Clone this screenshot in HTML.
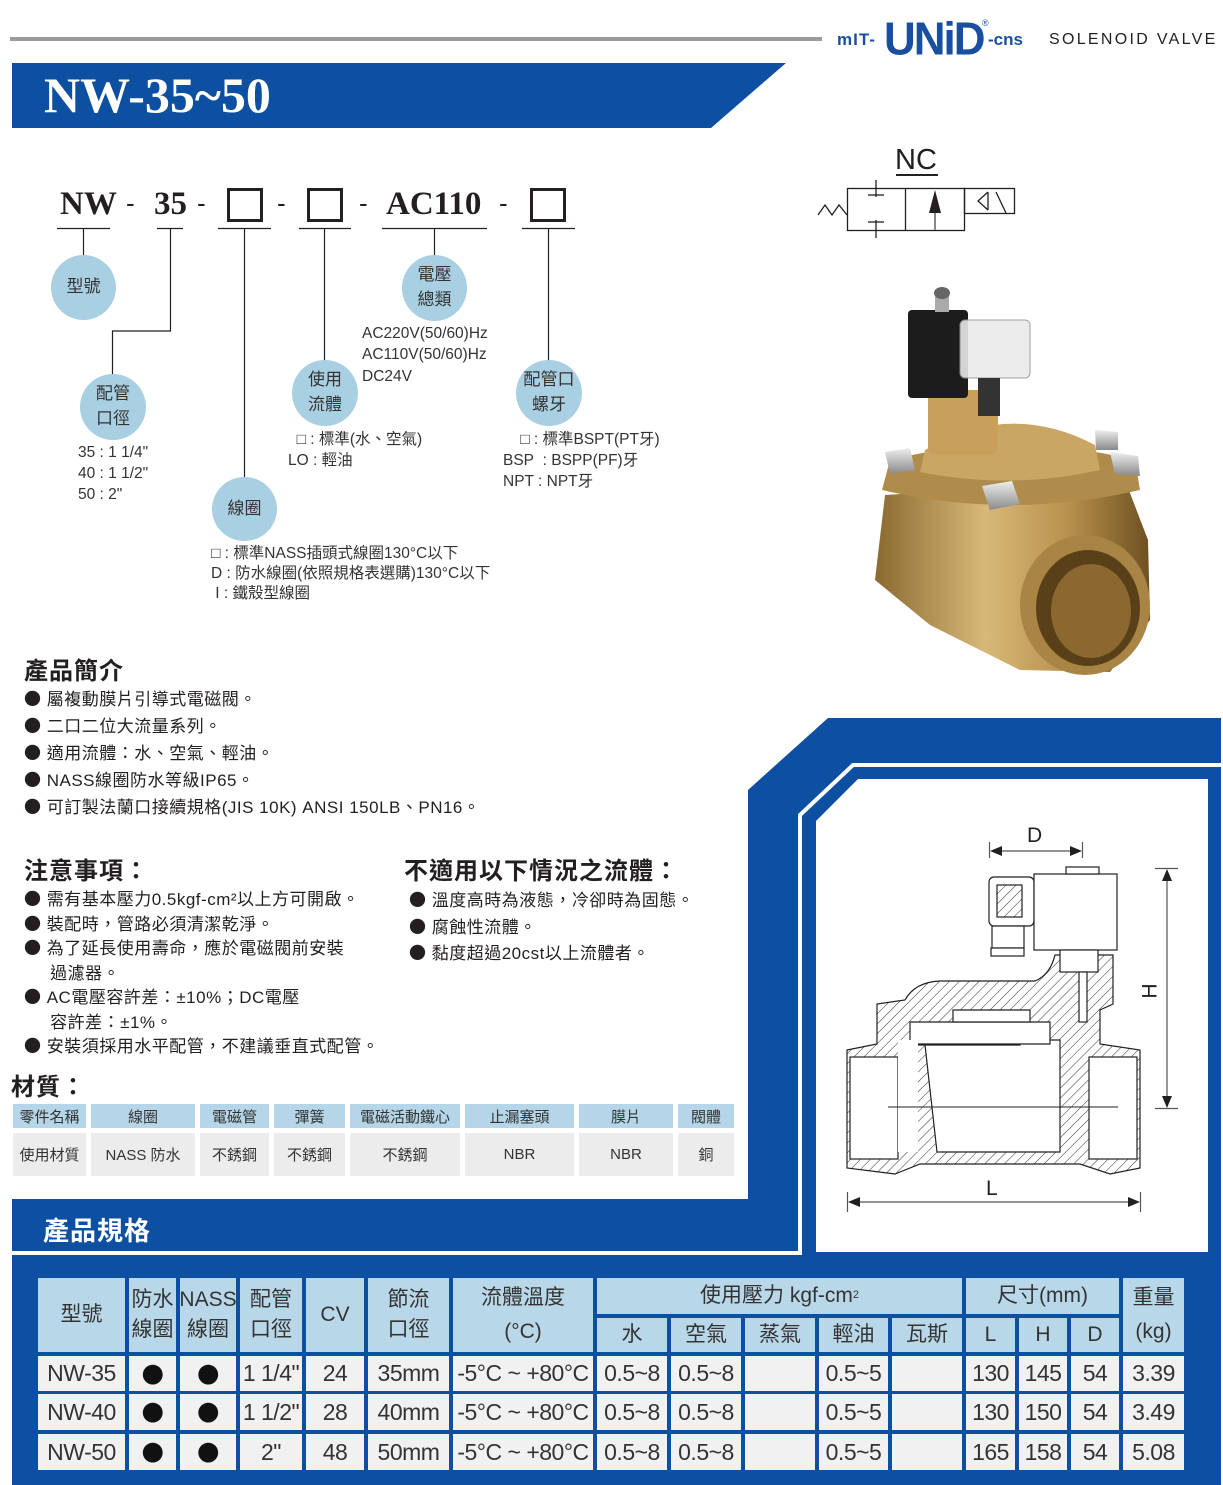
<!DOCTYPE html>
<html><head><meta charset="utf-8">
<style>
*{margin:0;padding:0;box-sizing:border-box}
body{width:1223px;height:1485px;position:relative;background:#fff;overflow:hidden;font-family:"Liberation Sans","Noto Sans CJK TC",sans-serif;color:#231f20}
.a{position:absolute;white-space:nowrap}
.c{position:absolute;display:flex;align-items:center;justify-content:center;text-align:center;white-space:nowrap}
.mh{background:#b5d6e8;font-size:15px;color:#333}
.md{background:#ececec;font-size:15px;color:#333}
.th{background:#b8d8ea;font-size:21px;color:#333;font-family:"Liberation Sans Narrow","Liberation Sans","Noto Sans CJK TC",sans-serif;line-height:1.45}
.td{background:#f1f1f2;font-size:23px;color:#333;font-family:"Liberation Sans Narrow","Liberation Sans","Noto Sans CJK TC",sans-serif;letter-spacing:-0.5px}
.dot{font-family:"Noto Sans CJK TC",sans-serif;font-size:22px;color:#111}
.circ{position:absolute;background:#a9cfe2;border-radius:50%;display:flex;align-items:center;justify-content:center;text-align:center;font-size:17px;color:#333;line-height:1.45}
.b{font-size:17px;color:#231f20;letter-spacing:0.5px}
.b i{font-style:normal;font-family:"Noto Sans CJK TC",sans-serif;font-size:17px;line-height:0}
.h2{font-size:24px;font-weight:bold;color:#231f20;letter-spacing:1px}
.sm{font-size:15.5px;color:#333;line-height:1.35}
</style></head><body>

<div class="a" style="left:10px;top:37px;width:812px;height:4px;background:#9a9a9a"></div>
<div class="a" style="left:837px;top:30px;font-size:17px;font-weight:900;color:#1a4f9f;letter-spacing:1px">mIT-</div>
<div class="a" style="left:884px;top:15px;font-size:44px;font-weight:900;color:#1a4f9f;letter-spacing:-2px;transform:scaleY(1.05)">UNiD</div>
<div class="a" style="left:982px;top:18px;font-size:9px;color:#1a4f9f">®</div>
<div class="a" style="left:988px;top:30px;font-size:17px;font-weight:900;color:#1a4f9f">-cns</div>
<div class="a" style="left:1049px;top:31px;font-size:16px;color:#231f20;letter-spacing:2.3px">SOLENOID VALVE</div>

<svg class="a" style="left:0;top:0" width="1223" height="140"><polygon points="12,63 786,63 711,128 12,128" fill="#0d4fa0"/></svg>
<div class="a" style="left:44px;top:66px;font-family:'Liberation Serif',serif;font-weight:bold;font-size:50px;color:#fff">NW-35~50</div>

<svg class="a" style="left:800px;top:140px" width="240" height="110">
<g stroke="#231f20" stroke-width="1.3" fill="none">
<rect x="47.5" y="48.5" width="117" height="42"/>
<line x1="105.5" y1="48.5" x2="105.5" y2="90.5"/>
<rect x="164.5" y="48.5" width="50" height="25"/>
<polyline points="18,75 25,65 32,75 39,65 47,75"/>
<line x1="76" y1="40" x2="76" y2="57"/><line x1="68" y1="55" x2="84" y2="55"/>
<line x1="76" y1="80" x2="76" y2="98"/><line x1="68" y1="82" x2="84" y2="82"/>
<polyline points="188,52 178,61 188,70"/><line x1="188" y1="52" x2="188" y2="70"/>
<line x1="196" y1="52" x2="206" y2="73"/>
</g>
<line x1="135" y1="90" x2="135" y2="68" stroke="#888" stroke-width="2"/>
<polygon points="135,50 129,73 141,73" fill="#231f20"/>
<line x1="96" y1="35" x2="138" y2="35" stroke="#231f20" stroke-width="2"/>
</svg>
<div class="a" style="left:895px;top:144px;font-size:29px;color:#231f20">NC</div>

<div class="a" style="left:60px;top:186px;font-family:'Liberation Serif',serif;font-weight:bold;font-size:33px">NW</div>
<div class="a" style="left:126px;top:188px;font-size:26px">-</div>
<div class="a" style="left:154px;top:186px;font-family:'Liberation Serif',serif;font-weight:bold;font-size:33px">35</div>
<div class="a" style="left:197px;top:188px;font-size:26px">-</div>
<div class="a" style="left:227px;top:188px;width:36px;height:34px;border:3px solid #231f20"></div>
<div class="a" style="left:277px;top:188px;font-size:26px">-</div>
<div class="a" style="left:307px;top:188px;width:36px;height:34px;border:3px solid #231f20"></div>
<div class="a" style="left:359px;top:188px;font-size:26px">-</div>
<div class="a" style="left:386px;top:186px;font-family:'Liberation Serif',serif;font-weight:bold;font-size:33px">AC110</div>
<div class="a" style="left:499px;top:188px;font-size:26px">-</div>
<div class="a" style="left:530px;top:188px;width:36px;height:34px;border:3px solid #231f20"></div>
<svg class="a" style="left:0;top:0" width="700" height="520">
<g stroke="#231f20" stroke-width="1.2" fill="none">
<line x1="57" y1="228.5" x2="110" y2="228.5"/><line x1="157" y1="228.5" x2="183" y2="228.5"/>
<line x1="218" y1="228.5" x2="271" y2="228.5"/><line x1="299" y1="228.5" x2="351" y2="228.5"/>
<line x1="382" y1="228.5" x2="487" y2="228.5"/><line x1="522" y1="228.5" x2="575" y2="228.5"/>
<line x1="83.5" y1="229" x2="83.5" y2="256"/>
<polyline points="170.5,229 170.5,331 112.5,331 112.5,375"/>
<line x1="244.5" y1="229" x2="244.5" y2="478"/>
<line x1="324.5" y1="229" x2="324.5" y2="362"/>
<line x1="434.5" y1="229" x2="434.5" y2="256"/>
<line x1="548.5" y1="229" x2="548.5" y2="362"/>
</g></svg>
<div class="circ" style="left:51px;top:255px;width:65px;height:65px">型號</div>
<div class="circ" style="left:80px;top:374px;width:66px;height:66px">配管<br>口徑</div>
<div class="circ" style="left:212px;top:477px;width:65px;height:64px">線圈</div>
<div class="circ" style="left:292px;top:360px;width:66px;height:66px">使用<br>流體</div>
<div class="circ" style="left:402px;top:255px;width:65px;height:66px">電壓<br>總類</div>
<div class="circ" style="left:516px;top:360px;width:66px;height:66px">配管口<br>螺牙</div>
<div class="a sm" style="left:78px;top:443px">35 : 1 1/4"<br>40 : 1 1/2"<br>50 : 2"</div>
<div class="a sm" style="left:362px;top:323px;line-height:1.38">AC220V(50/60)Hz<br>AC110V(50/60)Hz<br>DC24V</div>
<div class="a sm" style="left:288px;top:430px">&nbsp;&nbsp;□ : 標準(水、空氣)<br>LO : 輕油</div>
<div class="a sm" style="left:503px;top:430px">&nbsp;&nbsp;&nbsp;&nbsp;□ : 標準BSPT(PT牙)<br>BSP&nbsp;&nbsp;: BSPP(PF)牙<br>NPT : NPT牙</div>
<div class="a sm" style="left:211px;top:544px;line-height:1.3">□ : 標準NASS插頭式線圈130°C以下<br>D : 防水線圈(依照規格表選購)130°C以下<br>&nbsp;I : 鐵殼型線圈</div>

<svg class="a" style="left:860px;top:280px" width="300" height="400">
<defs>
<linearGradient id="br" x1="0" y1="0" x2="1" y2="0"><stop offset="0" stop-color="#8a6a30"/><stop offset="0.4" stop-color="#d8b878"/><stop offset="0.7" stop-color="#b8914e"/><stop offset="1" stop-color="#6e5020"/></linearGradient>
<linearGradient id="nt" x1="0" y1="0" x2="0" y2="1"><stop offset="0" stop-color="#eeeeee"/><stop offset="1" stop-color="#8a8a8a"/></linearGradient>
</defs>
<path d="M25,215 L265,200 L288,260 L290,340 L250,392 L160,390 L70,345 L15,300 Z" fill="url(#br)"/>
<ellipse cx="225" cy="325" rx="65" ry="70" fill="#a88545"/>
<ellipse cx="228" cy="328" rx="52" ry="58" fill="#5a4018"/>
<ellipse cx="231" cy="331" rx="40" ry="47" fill="#8a6830"/>
<path d="M30,180 Q150,150 275,180 L280,210 Q150,240 22,210 Z" fill="#b08c4c"/>
<path d="M65,170 Q150,120 235,165 L240,190 Q150,210 60,192 Z" fill="#c9a664"/>
<rect x="68" y="110" width="70" height="65" rx="8" fill="#c8a05c"/>
<rect x="48" y="30" width="60" height="88" rx="4" fill="#1c1c1c"/>
<rect x="100" y="40" width="70" height="58" rx="5" fill="#e9e9e9" opacity="0.9" stroke="#999"/>
<rect x="118" y="98" width="22" height="38" fill="#333"/>
<rect x="75" y="12" width="14" height="20" fill="#aaa"/>
<ellipse cx="82" cy="13" rx="8" ry="6" fill="#666"/>
<polygon points="25,172 50,168 55,190 30,194" fill="url(#nt)"/>
<polygon points="250,172 278,176 280,196 255,194" fill="url(#nt)"/>
<polygon points="122,206 152,201 160,224 130,230" fill="url(#nt)"/>
<polygon points="235,150 258,152 258,170 236,170" fill="url(#nt)"/>
</svg>

<div class="a h2" style="left:24px;top:651px">產品簡介</div>
<div class="a b" style="left:24px;top:686px;line-height:27px"><i>●</i> 屬複動膜片引導式電磁閥。<br><i>●</i> 二口二位大流量系列。<br><i>●</i> 適用流體：水、空氣、輕油。<br><i>●</i> NASS線圈防水等級IP65。<br><i>●</i> 可訂製法蘭口接續規格(JIS 10K) ANSI 150LB、PN16。</div>

<div class="a h2" style="left:24px;top:851px">注意事項：</div>
<div class="a b" style="left:24px;top:888px;line-height:24.5px"><i>●</i> 需有基本壓力0.5kgf-cm²以上方可開啟。<br><i>●</i> 裝配時，管路必須清潔乾淨。<br><i>●</i> 為了延長使用壽命，應於電磁閥前安裝<br>&nbsp;&nbsp;&nbsp;&nbsp;&nbsp;過濾器。<br><i>●</i> AC電壓容許差：±10%；DC電壓<br>&nbsp;&nbsp;&nbsp;&nbsp;&nbsp;容許差：±1%。<br><i>●</i> 安裝須採用水平配管，不建議垂直式配管。</div>
<div class="a h2" style="left:404px;top:851px">不適用以下情況之流體：</div>
<div class="a b" style="left:409px;top:888px;line-height:26.5px"><i>●</i> 溫度高時為液態，冷卻時為固態。<br><i>●</i> 腐蝕性流體。<br><i>●</i> 黏度超過20cst以上流體者。</div>

<div class="a h2" style="left:11px;top:1067px">材質：</div>
<div class="c mh" style="left:13px;top:1104px;width:73px;height:24px">零件名稱</div>
<div class="c mh" style="left:91px;top:1104px;width:104px;height:24px">線圈</div>
<div class="c mh" style="left:200px;top:1104px;width:69px;height:24px">電磁管</div>
<div class="c mh" style="left:274px;top:1104px;width:71px;height:24px">彈簧</div>
<div class="c mh" style="left:350px;top:1104px;width:110px;height:24px">電磁活動鐵心</div>
<div class="c mh" style="left:465px;top:1104px;width:109px;height:24px">止漏塞頭</div>
<div class="c mh" style="left:579px;top:1104px;width:94px;height:24px">膜片</div>
<div class="c mh" style="left:678px;top:1104px;width:56px;height:24px">閥體</div>
<div class="c md" style="left:13px;top:1133px;width:73px;height:43px">使用材質</div>
<div class="c md" style="left:91px;top:1133px;width:104px;height:43px">NASS 防水</div>
<div class="c md" style="left:200px;top:1133px;width:69px;height:43px">不銹鋼</div>
<div class="c md" style="left:274px;top:1133px;width:71px;height:43px">不銹鋼</div>
<div class="c md" style="left:350px;top:1133px;width:110px;height:43px">不銹鋼</div>
<div class="c md" style="left:465px;top:1133px;width:109px;height:43px">NBR</div>
<div class="c md" style="left:579px;top:1133px;width:94px;height:43px">NBR</div>
<div class="c md" style="left:678px;top:1133px;width:56px;height:43px">銅</div>

<svg class="a" style="left:0;top:0" width="1223" height="1485">
<polygon points="828,718 1221,718 1221,1485 12,1485 12,1199 748,1199 748,790" fill="#0d4fa0"/>
<polyline points="1223,765 853,765 800,815 800,1253 12,1253" fill="none" stroke="#fff" stroke-width="4"/>
<polygon points="858,779 1208,779 1208,1252 816,1252 816,821" fill="#fff"/>
<defs><pattern id="ht" width="7" height="7" patternUnits="userSpaceOnUse" patternTransform="rotate(45)"><line x1="0" y1="0" x2="0" y2="7" stroke="#333" stroke-width="1"/></pattern></defs>
<g stroke="#231f20" stroke-width="1.2">
<path d="M847,1050 L877,1044 L877,1004 L905,1000 Q915,982 940,981 L1035,981 Q1050,975 1055,955 L1113,955 L1113,1004 L1100,1010 L1100,1044 L1140,1050 L1140,1168 L1110,1174 L1080,1164 L920,1164 L895,1174 L847,1168 Z" fill="url(#ht)"/>
<rect x="850" y="1057" width="48" height="102" fill="#fff"/>
<rect x="1089" y="1057" width="48" height="102" fill="#fff"/>
<path d="M918,1045 L1020,1045 L1020,1040 L1060,1040 L1060,1152 L937,1152 L925,1045 Z" fill="#fff"/>
<path d="M910,1044 L910,1022 L1050,1022 L1050,1044 Z" fill="#fff"/>
<path d="M953,1010 L1030,1010 L1030,1022 L953,1022 Z" fill="#fff"/>
<rect x="898" y="1040" width="20" height="112" fill="#fff" stroke="none"/>
<rect x="989" y="877" width="45" height="49" rx="5" fill="#fff"/>
<rect x="997" y="885" width="25" height="32" fill="url(#ht)"/>
<rect x="992" y="926" width="32" height="22" fill="#fff"/>
<rect x="991" y="948" width="33" height="8" fill="#fff"/>
<rect x="1034" y="874" width="83" height="76" fill="#fff"/>
<rect x="1066" y="867" width="33" height="7" fill="#fff"/>
<rect x="1060" y="950" width="38" height="22" fill="#fff"/>
<rect x="1079" y="972" width="8" height="50" fill="#fff"/>
</g>
<line x1="888" y1="1107" x2="1118" y2="1107" stroke="#231f20" stroke-width="1"/>
<g stroke="#555" stroke-width="1.2">
<line x1="989.5" y1="842" x2="989.5" y2="858"/><line x1="1082.5" y1="842" x2="1082.5" y2="858"/>
<line x1="995" y1="851" x2="1077" y2="851"/>
<line x1="1155" y1="868.5" x2="1178" y2="868.5"/><line x1="1155" y1="1108.5" x2="1178" y2="1108.5"/>
<line x1="1167" y1="875" x2="1167" y2="1100"/>
<line x1="847.5" y1="1192" x2="847.5" y2="1212"/><line x1="1140.5" y1="1192" x2="1140.5" y2="1212"/>
<line x1="852" y1="1202" x2="1135" y2="1202"/>
</g>
<g fill="#231f20">
<polygon points="990,851 1002,846 1002,856"/><polygon points="1082,851 1070,846 1070,856"/>
<polygon points="1167,869 1162,881 1172,881"/><polygon points="1167,1108 1162,1096 1172,1096"/>
<polygon points="848,1202 860,1197 860,1207"/><polygon points="1140,1202 1128,1197 1128,1207"/>
</g>
</svg>
<div class="a" style="left:1027px;top:824px;font-size:21px">D</div>
<div class="a" style="left:1143px;top:979px;font-size:21px;transform:rotate(-90deg)">H</div>
<div class="a" style="left:986px;top:1177px;font-size:21px">L</div>

<div class="a" style="left:43px;top:1211px;font-size:26px;font-weight:bold;color:#fff;letter-spacing:1px">產品規格</div>

<div class="c th" style="left:38px;top:1278px;width:87px;height:74px">型號</div>
<div class="c th" style="left:129px;top:1278px;width:47px;height:74px">防水<br>線圈</div>
<div class="c th" style="left:180px;top:1278px;width:56px;height:74px">NASS<br>線圈</div>
<div class="c th" style="left:240px;top:1278px;width:62px;height:74px">配管<br>口徑</div>
<div class="c th" style="left:306px;top:1278px;width:58px;height:74px">CV</div>
<div class="c th" style="left:368px;top:1278px;width:81px;height:74px">節流<br>口徑</div>
<div class="c th" style="left:453px;top:1278px;width:140px;height:74px;line-height:1.6">流體溫度<br>(°C)</div>
<div class="c th" style="left:597px;top:1278px;width:365px;height:36px">使用壓力 kgf-cm<sup style="font-size:11px">2</sup></div>
<div class="c th" style="left:597px;top:1318px;width:70px;height:34px">水</div>
<div class="c th" style="left:671px;top:1318px;width:70px;height:34px">空氣</div>
<div class="c th" style="left:745px;top:1318px;width:70px;height:34px">蒸氣</div>
<div class="c th" style="left:819px;top:1318px;width:69px;height:34px">輕油</div>
<div class="c th" style="left:892px;top:1318px;width:70px;height:34px">瓦斯</div>
<div class="c th" style="left:966px;top:1278px;width:153px;height:36px">尺寸(mm)</div>
<div class="c th" style="left:966px;top:1318px;width:49px;height:34px">L</div>
<div class="c th" style="left:1019px;top:1318px;width:48px;height:34px">H</div>
<div class="c th" style="left:1071px;top:1318px;width:48px;height:34px">D</div>
<div class="c th" style="left:1123px;top:1278px;width:61px;height:74px;line-height:1.6">重量<br>(kg)</div>

<div class="c td" style="left:38px;top:1356px;width:87px;height:35px">NW-35</div>
<div class="c td dot" style="left:129px;top:1356px;width:47px;height:35px">●</div>
<div class="c td dot" style="left:180px;top:1356px;width:56px;height:35px">●</div>
<div class="c td" style="left:240px;top:1356px;width:62px;height:35px">1 1/4"</div>
<div class="c td" style="left:306px;top:1356px;width:58px;height:35px">24</div>
<div class="c td" style="left:368px;top:1356px;width:81px;height:35px">35mm</div>
<div class="c td" style="left:453px;top:1356px;width:140px;height:35px">-5°C ~ +80°C</div>
<div class="c td" style="left:597px;top:1356px;width:70px;height:35px">0.5~8</div>
<div class="c td" style="left:671px;top:1356px;width:70px;height:35px">0.5~8</div>
<div class="c td" style="left:745px;top:1356px;width:70px;height:35px"></div>
<div class="c td" style="left:819px;top:1356px;width:69px;height:35px">0.5~5</div>
<div class="c td" style="left:892px;top:1356px;width:70px;height:35px"></div>
<div class="c td" style="left:966px;top:1356px;width:49px;height:35px">130</div>
<div class="c td" style="left:1019px;top:1356px;width:48px;height:35px">145</div>
<div class="c td" style="left:1071px;top:1356px;width:48px;height:35px">54</div>
<div class="c td" style="left:1123px;top:1356px;width:61px;height:35px">3.39</div>
<div class="c td" style="left:38px;top:1394px;width:87px;height:36px">NW-40</div>
<div class="c td dot" style="left:129px;top:1394px;width:47px;height:36px">●</div>
<div class="c td dot" style="left:180px;top:1394px;width:56px;height:36px">●</div>
<div class="c td" style="left:240px;top:1394px;width:62px;height:36px">1 1/2"</div>
<div class="c td" style="left:306px;top:1394px;width:58px;height:36px">28</div>
<div class="c td" style="left:368px;top:1394px;width:81px;height:36px">40mm</div>
<div class="c td" style="left:453px;top:1394px;width:140px;height:36px">-5°C ~ +80°C</div>
<div class="c td" style="left:597px;top:1394px;width:70px;height:36px">0.5~8</div>
<div class="c td" style="left:671px;top:1394px;width:70px;height:36px">0.5~8</div>
<div class="c td" style="left:745px;top:1394px;width:70px;height:36px"></div>
<div class="c td" style="left:819px;top:1394px;width:69px;height:36px">0.5~5</div>
<div class="c td" style="left:892px;top:1394px;width:70px;height:36px"></div>
<div class="c td" style="left:966px;top:1394px;width:49px;height:36px">130</div>
<div class="c td" style="left:1019px;top:1394px;width:48px;height:36px">150</div>
<div class="c td" style="left:1071px;top:1394px;width:48px;height:36px">54</div>
<div class="c td" style="left:1123px;top:1394px;width:61px;height:36px">3.49</div>
<div class="c td" style="left:38px;top:1434px;width:87px;height:36px">NW-50</div>
<div class="c td dot" style="left:129px;top:1434px;width:47px;height:36px">●</div>
<div class="c td dot" style="left:180px;top:1434px;width:56px;height:36px">●</div>
<div class="c td" style="left:240px;top:1434px;width:62px;height:36px">2"</div>
<div class="c td" style="left:306px;top:1434px;width:58px;height:36px">48</div>
<div class="c td" style="left:368px;top:1434px;width:81px;height:36px">50mm</div>
<div class="c td" style="left:453px;top:1434px;width:140px;height:36px">-5°C ~ +80°C</div>
<div class="c td" style="left:597px;top:1434px;width:70px;height:36px">0.5~8</div>
<div class="c td" style="left:671px;top:1434px;width:70px;height:36px">0.5~8</div>
<div class="c td" style="left:745px;top:1434px;width:70px;height:36px"></div>
<div class="c td" style="left:819px;top:1434px;width:69px;height:36px">0.5~5</div>
<div class="c td" style="left:892px;top:1434px;width:70px;height:36px"></div>
<div class="c td" style="left:966px;top:1434px;width:49px;height:36px">165</div>
<div class="c td" style="left:1019px;top:1434px;width:48px;height:36px">158</div>
<div class="c td" style="left:1071px;top:1434px;width:48px;height:36px">54</div>
<div class="c td" style="left:1123px;top:1434px;width:61px;height:36px">5.08</div>

</body></html>
